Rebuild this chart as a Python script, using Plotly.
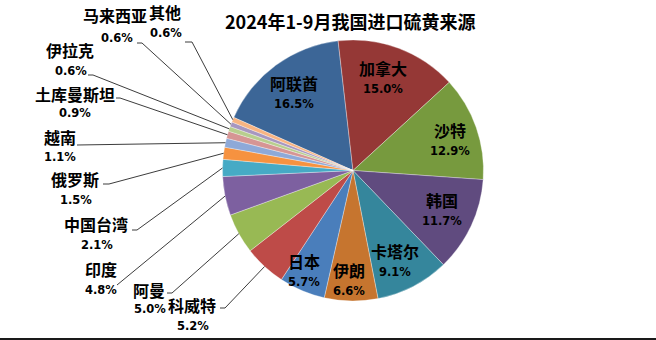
import math
import plotly.graph_objects as go

W, H = 656, 340

# Sulfur import sources, Jan–Sep 2024 (share of total, %)
countries = ["阿联酋", "加拿大", "沙特", "韩国", "卡塔尔", "伊朗", "日本", "科威特",
             "阿曼", "印度", "中国台湾", "俄罗斯", "越南", "土库曼斯坦", "伊拉克",
             "马来西亚", "其他"]
shares = [16.5, 15.0, 12.9, 11.7, 9.1, 6.6, 5.7, 5.2, 5.0, 4.8, 2.1, 1.5, 1.1, 0.9,
          0.6, 0.6, 0.6]
title_text = "2024年1-9月我国进口硫黄来源"

slice_colors = ["#3C6697", "#953836", "#779A3E", "#604B7F", "#35869C", "#C6752F",
                "#4A7EBB", "#BE4B48", "#98B954", "#7D60A0", "#46AAC5", "#F69240",
                "#8EA9D8", "#D69594", "#B8CE8E", "#A797C0", "#F8B482"]

# Pie geometry in page pixels
CX, CY, R = 353, 170.5, 130.5
ROTATION = -66

CJK = "Noto Sans CJK SC"
NUM = "DejaVu Sans"


def fx(x):
    return x / W


def fy(y):
    return 1 - y / H


total = sum(shares)
mid_angles = []
acc = 0.0
for v in shares:
    mid_angles.append(ROTATION + 360.0 * (acc + v / 2) / total)
    acc += v


def polar(angle_deg, frac):
    a = math.radians(angle_deg)
    return CX + R * frac * math.sin(a), CY - R * frac * math.cos(a)


fig = go.Figure(go.Pie(
    labels=countries,
    values=shares,
    sort=False,
    direction="clockwise",
    rotation=ROTATION,
    marker=dict(colors=slice_colors, line=dict(color="rgba(255,255,255,0.55)", width=0.6)),
    textinfo="none",
    hoverinfo="label+percent",
    domain=dict(x=[fx(CX - R), fx(CX + R)], y=[fy(CY + R), fy(CY - R)]),
    showlegend=False,
))

annotations = []
shapes = []


def add_label(name, pct, nx, ny, ppx, ppy):
    annotations.append(dict(
        x=fx(nx), y=fy(ny), xref="paper", yref="paper", text=name, showarrow=False,
        xanchor="center", yanchor="middle",
        font=dict(family=CJK, size=16, color="#000000", weight="bold")))
    annotations.append(dict(
        x=fx(ppx), y=fy(ppy), xref="paper", yref="paper", text=pct, showarrow=False,
        xanchor="center", yanchor="middle",
        font=dict(family=NUM, size=11.5, color="#000000", weight="bold")))


# Labels drawn inside the larger slices: (radial fraction, angular nudge)
inside = {
    "阿联酋": (0.74, -1.2), "加拿大": (0.74, -2.2), "沙特": (0.78, 1.9),
    "韩国": (0.75, -1.2), "卡塔尔": (0.77, 3.0), "伊朗": (0.84, 1.5),
    "日本": (0.86, 3.0),
}
# Labels outside with leader lines:
# name centre, percent centre, leader start, leader tick end x
outside = {
    "科威特": ((192, 305), (193, 326), (220, 308), 225),
    "阿曼": ((149, 290), (150, 309), (167, 293), 172),
    "印度": ((101, 269), (101, 290), (117, 285), 117),
    "中国台湾": ((96, 224), (97, 245), (132, 230), 137),
    "俄罗斯": ((75, 179), (76, 200), (103, 184), 109),
    "越南": ((60, 137), (60, 157), (77, 145), 77),
    "土库曼斯坦": ((75, 94), (75, 113), (116, 98), 120),
    "伊拉克": ((70, 50), (71, 71), (88, 75), 93),
    "马来西亚": ((115, 15), (117, 38), (137, 43), 142),
    "其他": ((165, 12), (166, 33), (185, 42), 192),
}

for i, name in enumerate(countries):
    pct = f"{shares[i]:.1f}%"
    if name in inside:
        frac, nudge = inside[name]
        lx, ly = polar(mid_angles[i] + nudge, frac)
        add_label(name, pct, lx, ly - 10.5, lx, ly + 10.5)
    else:
        (nx, ny), (ppx, ppy), (sx, sy), tx = outside[name]
        add_label(name, pct, nx, ny, ppx, ppy)
        ex, ey = polar(mid_angles[i], 1.0)
        path = (f"M {fx(sx)} {fy(sy)} L {fx(tx)} {fy(sy)} "
                f"L {fx(ex)} {fy(ey)}")
        shapes.append(dict(type="path", xref="paper", yref="paper", path=path,
                           line=dict(color="#262626", width=0.9)))

annotations.append(dict(
    x=fx(350), y=fy(21), xref="paper", yref="paper", text=title_text, showarrow=False,
    xanchor="center", yanchor="middle",
    font=dict(family=CJK, size=18, color="#000000", weight="bold")))

# bottom frame line
shapes.append(dict(type="line", xref="paper", yref="paper", x0=0, x1=1,
                   y0=fy(339), y1=fy(339), line=dict(color="#1a1a1a", width=2)))

fig.update_layout(
    width=W, height=H,
    margin=dict(l=0, r=0, t=0, b=0),
    paper_bgcolor="#FFFFFF",
    plot_bgcolor="#FFFFFF",
    annotations=annotations,
    shapes=shapes,
)

fig.write_html("out.html")
